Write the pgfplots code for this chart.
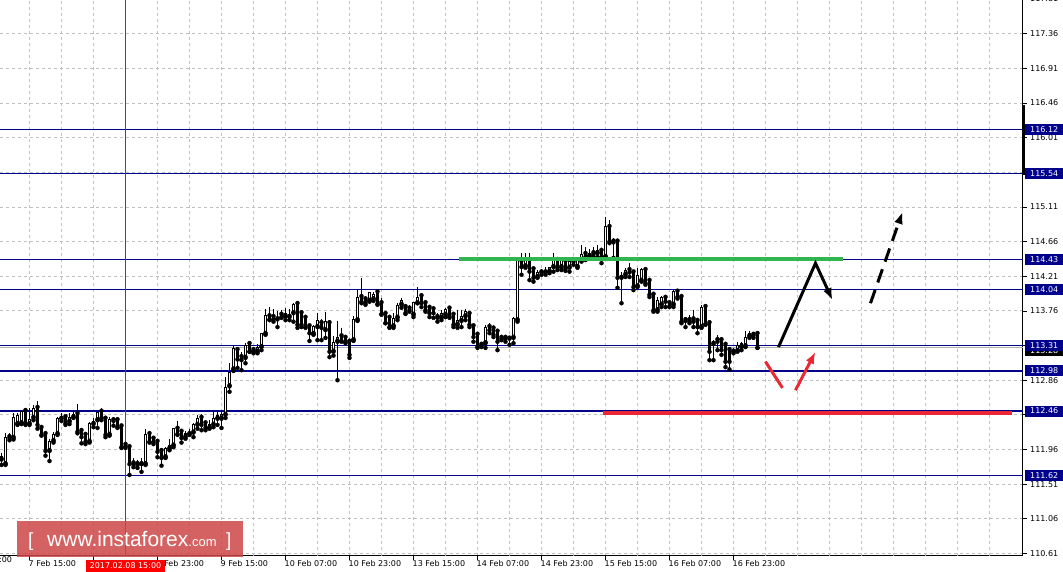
\documentclass[border=0pt]{standalone}
\usepackage{pgfplots}
\pgfplotsset{compat=1.18}
\usepackage{pgfplotstable}
\usepackage{fontspec}
\setmainfont{DejaVu Sans}
\newfontfamily\wmfont{Liberation Sans}
\usetikzlibrary{arrows.meta}
\definecolor{navy}{RGB}{0,0,140}
\definecolor{gridgray}{RGB}{192,192,192}
\definecolor{bidgray}{RGB}{175,175,175}
\definecolor{lvlgreen}{RGB}{50,180,80}
\definecolor{lvlred}{RGB}{232,40,50}
\definecolor{wmred}{RGB}{205,70,70}
\definecolor{datered}{RGB}{255,0,0}

\pgfplotstableread{
k o h l c
-7 111.83 111.92 111.76 111.87
-6 111.77 112.17 111.76 112.12
-5 112.12 112.17 112.08 112.11
-4 112.11 112.43 112.09 112.38
-3 112.29 112.43 112.28 112.41
-2 112.30 112.47 112.29 112.46
-1 112.46 112.47 112.28 112.30
0 112.29 112.50 112.28 112.36
1 112.37 112.54 112.34 112.50
2 112.50 112.59 112.23 112.28
3 112.24 112.27 112.14 112.15
4 112.16 112.17 111.88 111.94
5 111.94 112.10 111.81 112.07
6 112.07 112.19 112.05 112.16
7 112.16 112.38 112.15 112.37
8 112.36 112.43 112.33 112.40
9 112.38 112.41 112.28 112.30
10 112.32 112.43 112.29 112.38
11 112.38 112.45 112.37 112.42
12 112.42 112.55 112.17 112.19
13 112.20 112.21 112.04 112.12
14 112.15 112.16 112.03 112.06
15 112.06 112.32 112.05 112.30
16 112.29 112.37 112.25 112.33
17 112.34 112.46 112.24 112.45
18 112.45 112.50 112.34 112.37
19 112.36 112.37 112.12 112.15
20 112.15 112.38 112.14 112.36
21 112.34 112.38 112.27 112.33
22 112.34 112.38 112.24 112.25
23 112.26 112.28 111.98 111.99
24 112.02 112.05 111.98 112.00
25 111.99 112.01 111.63 111.77
26 111.78 111.85 111.73 111.77
27 111.77 111.82 111.72 111.76
28 111.77 111.85 111.67 111.78
29 111.77 112.23 111.76 112.16
30 112.16 112.19 112.05 112.06
31 112.10 112.12 112.03 112.05
32 112.06 112.07 111.86 111.93
33 111.94 111.98 111.75 111.85
34 111.86 111.99 111.85 111.98
35 111.97 112.10 111.95 112.02
36 112.01 112.24 111.99 112.24
37 112.23 112.33 112.15 112.16
38 112.19 112.20 112.05 112.11
39 112.12 112.20 112.10 112.17
40 112.16 112.23 112.15 112.19
41 112.18 112.30 112.12 112.29
42 112.28 112.41 112.23 112.37
43 112.37 112.42 112.21 112.28
44 112.30 112.33 112.21 112.24
45 112.24 112.34 112.23 112.29
46 112.28 112.45 112.25 112.37
47 112.36 112.46 112.28 112.41
48 112.36 112.47 112.24 112.42
49 112.41 112.90 112.37 112.77
50 112.78 113.08 112.71 112.97
51 113.00 113.30 112.98 113.28
52 113.25 113.29 113.02 113.13
53 113.16 113.22 112.99 113.12
54 113.15 113.34 113.08 113.32
55 113.33 113.36 113.23 113.23
56 113.25 113.29 113.21 113.24
57 113.23 113.33 113.21 113.29
58 113.29 113.47 113.25 113.47
59 113.46 113.79 113.45 113.71
60 113.69 113.81 113.64 113.65
61 113.68 113.79 113.62 113.65
62 113.65 113.76 113.55 113.68
63 113.71 113.77 113.67 113.68
64 113.69 113.80 113.64 113.73
65 113.68 113.79 113.64 113.72
66 113.73 113.86 113.62 113.85
67 113.85 113.86 113.54 113.58
68 113.73 113.77 113.55 113.58
69 113.67 113.68 113.54 113.55
70 113.56 113.58 113.37 113.47
71 113.46 113.58 113.45 113.56
72 113.55 113.73 113.38 113.64
73 113.60 113.65 113.38 113.54
74 113.51 113.75 113.41 113.63
75 113.60 113.64 113.16 113.23
76 113.23 113.44 113.18 113.36
77 113.36 113.63 112.86 113.42
78 113.43 113.54 113.36 113.37
79 113.41 113.44 113.34 113.36
80 113.36 113.38 113.15 113.19
81 113.38 113.69 113.37 113.65
82 113.64 114.03 113.63 113.94
83 113.94 114.19 113.86 113.88
84 113.91 113.93 113.84 113.86
85 113.89 114.01 113.88 114.00
86 113.91 114.01 113.89 113.98
87 114.00 114.01 113.84 113.85
88 113.86 113.93 113.71 113.72
89 113.72 113.73 113.60 113.60
90 113.67 113.71 113.54 113.55
91 113.56 113.73 113.54 113.67
92 113.67 113.86 113.64 113.84
93 113.84 113.93 113.80 113.90
94 113.81 113.84 113.72 113.73
95 113.79 113.84 113.75 113.77
96 113.71 113.88 113.68 113.88
97 113.86 114.07 113.86 113.94
98 113.95 113.99 113.81 113.86
99 113.86 113.88 113.75 113.77
100 113.80 113.81 113.68 113.73
101 113.78 113.82 113.67 113.73
102 113.68 113.73 113.62 113.67
103 113.67 113.77 113.64 113.73
104 113.71 113.80 113.68 113.79
105 113.79 113.81 113.67 113.69
106 113.71 113.73 113.55 113.58
107 113.58 113.77 113.54 113.64
108 113.63 113.77 113.55 113.69
109 113.69 113.79 113.64 113.76
110 113.72 113.75 113.55 113.58
111 113.56 113.59 113.36 113.42
112 113.45 113.47 113.28 113.29
113 113.32 113.36 113.29 113.34
114 113.34 113.58 113.28 113.55
115 113.55 113.60 113.47 113.51
116 113.53 113.58 113.42 113.45
117 113.49 113.51 113.25 113.36
118 113.41 113.44 113.38 113.40
119 113.41 113.45 113.36 113.40
120 113.40 113.42 113.32 113.42
121 113.41 113.68 113.34 113.67
122 113.64 114.45 113.62 114.42
123 114.40 114.51 114.23 114.33
124 114.34 114.51 114.32 114.42
125 114.42 114.51 114.16 114.27
126 114.30 114.32 114.14 114.19
127 114.20 114.29 114.19 114.26
128 114.26 114.30 114.23 114.27
129 114.26 114.33 114.23 114.29
130 114.27 114.33 114.25 114.33
131 114.33 114.51 114.27 114.43
132 114.42 114.46 114.29 114.32
133 114.33 114.45 114.29 114.43
134 114.40 114.42 114.28 114.31
135 114.32 114.44 114.27 114.41
136 114.42 114.45 114.36 114.40
137 114.33 114.46 114.32 114.43
138 114.42 114.61 114.40 114.50
139 114.50 114.59 114.42 114.46
140 114.47 114.56 114.45 114.51
141 114.51 114.59 114.46 114.50
142 114.51 114.62 114.46 114.55
143 114.54 114.56 114.38 114.46
144 114.46 114.98 114.45 114.86
145 114.85 114.94 114.64 114.66
146 114.66 114.71 114.45 114.65
147 114.66 114.69 114.06 114.19
148 114.19 114.27 113.86 114.23
149 114.23 114.32 114.20 114.29
150 114.29 114.38 114.20 114.26
151 114.26 114.29 114.03 114.07
152 114.08 114.32 114.07 114.23
153 114.15 114.32 114.14 114.30
154 114.29 114.32 114.10 114.12
155 114.15 114.16 113.94 113.97
156 113.97 114.00 113.75 113.77
157 113.77 113.94 113.75 113.90
158 113.84 113.95 113.81 113.94
159 113.93 113.94 113.81 113.88
160 113.86 113.88 113.81 113.82
161 113.84 114.03 113.81 114.02
162 114.01 114.05 113.92 113.94
163 113.94 113.95 113.60 113.62
164 113.64 113.68 113.55 113.63
165 113.64 113.71 113.60 113.63
166 113.65 113.77 113.55 113.62
167 113.63 113.67 113.47 113.55
168 113.55 113.84 113.54 113.81
169 113.81 113.85 113.58 113.59
170 113.60 113.62 113.12 113.23
171 113.33 113.38 113.12 113.37
172 113.38 113.45 113.25 113.36
173 113.38 113.42 113.19 113.25
174 113.32 113.35 113.03 113.10
175 113.25 113.29 113.00 113.10
176 113.23 113.28 113.21 113.25
177 113.24 113.35 113.23 113.32
178 113.29 113.36 113.25 113.34
179 113.30 113.50 113.29 113.42
180 113.43 113.50 113.41 113.47
181 113.45 113.49 113.41 113.44
182 113.46 113.47 113.28 113.28
}\candles

\begin{document}
\begin{tikzpicture}
\begin{axis}[
  at={(0pt,16pt)}, anchor=south west,
  scale only axis, width=1023pt, height=556pt,
  xmin=-7.375, xmax=248.375, ymin=110.577, ymax=117.798,
  axis x line*=bottom, axis y line*=right,
  axis line style={black, line width=1pt, -},
  clip mode=individual,
  ticklabel style={font=\fontsize{8}{10}\selectfont},
  grid=major,
  major grid style={gridgray, line width=0.9pt, dash pattern=on 3pt off 3pt},
  tick align=outside,
  major tick length=4pt,
  tick style={black, line width=0.8pt},
  ytick={110.61,111.06,111.51,111.96,112.41,112.86,113.31,113.76,114.21,114.66,115.11,115.56,116.01,116.46,116.91,117.36},
  yticklabels={110.61,111.06,111.51,111.96,112.41,112.86,113.31,113.76,114.21,114.66,115.11,115.56,116.01,116.46,116.91,117.36},
  yticklabel style={anchor=west, inner sep=0pt, xshift=3pt},
  xtick={0,16,32,48,64,80,96,112,128,144,160,176},
  xticklabels={7 Feb 15:00,8 Feb 07:00,8 Feb 23:00,9 Feb 15:00,10 Feb 07:00,10 Feb 23:00,13 Feb 15:00,14 Feb 07:00,14 Feb 23:00,15 Feb 15:00,16 Feb 07:00,16 Feb 23:00},
  xticklabel style={anchor=north west, inner sep=0pt, xshift=-1pt},
  extra x ticks={-8,8,24,40,56,72,88,104,120,136,152,168,184,192,200,208,216,224,232,240},
  extra x tick labels={},
  extra x tick style={major tick length=0pt},
]
% level lines
\addplot[navy, line width=1.2pt, forget plot] coordinates {(-7.375,116.12) (248.375,116.12)};
\addplot[navy, line width=1.2pt, forget plot] coordinates {(-7.375,115.54) (248.375,115.54)};
\addplot[navy, line width=1.2pt, forget plot] coordinates {(-7.375,114.43) (248.375,114.43)};
\addplot[navy, line width=1.2pt, forget plot] coordinates {(-7.375,114.04) (248.375,114.04)};
\addplot[bidgray, line width=1pt, forget plot] coordinates {(-7.375,113.28) (248.375,113.28)};
\addplot[navy, line width=1.2pt, forget plot] coordinates {(-7.375,113.31) (248.375,113.31)};
\addplot[navy, line width=1.2pt, forget plot] coordinates {(-7.375,112.98) (248.375,112.98)};
\addplot[navy, line width=1.2pt, forget plot] coordinates {(-7.375,112.46) (248.375,112.46)};
\addplot[navy, line width=1.2pt, forget plot] coordinates {(-7.375,111.62) (248.375,111.62)};
% crosshair line
\addplot[black!70, line width=1pt, forget plot] coordinates {(24,110.577) (24,117.798)};
% candles: wicks
\addplot[only marks, mark=none, forget plot,
  error bars/.cd, y dir=plus, y explicit, error mark=none,
  error bar style={black, line width=1pt}]
  table[x=k, y=l, y error plus expr={\thisrow{h}-\thisrow{l}}] {\candles};
% candles: bodies
\addplot[only marks, mark=none, forget plot,
  error bars/.cd, y dir=plus, y explicit, error mark=none,
  error bar style={black, line width=3pt}]
  table[x=k, y expr={min(\thisrow{o},\thisrow{c})}, y error plus expr={max(abs(\thisrow{c}-\thisrow{o}),0.013)}] {\candles};
\addplot[only marks, mark=none, forget plot,
  error bars/.cd, y dir=plus, y explicit, error mark=none,
  error bar style={white, line width=1pt}]
  table[x=k, y expr={\thisrow{o}+0.013}, y error plus expr={max(\thisrow{c}-\thisrow{o}-0.026,0)}] {\candles};
% support / resistance segments
\addplot[lvlgreen, line width=4pt, forget plot] coordinates {(107.5,114.43) (203.5,114.43)};
\addplot[lvlred, line width=4pt, forget plot] coordinates {(143.5,112.44) (245.75,112.44)};
% forecast arrows
\addplot[black, line width=3pt, line join=miter, -{Latex[length=12pt,width=9pt]}, forget plot] coordinates {(187.25,113.29) (196.5,114.38) (200.75,113.90)};
\addplot[black, line width=3pt, dash pattern=on 14pt off 8pt, -{Latex[length=12pt,width=9pt]}, forget plot] coordinates {(210.25,113.86) (218.25,115.045)};
\addplot[lvlred, line width=3pt, forget plot] coordinates {(184,113.10) (188.25,112.76)};
\addplot[lvlred, line width=3pt, -{Latex[length=12pt,width=9pt]}, forget plot] coordinates {(191.5,112.73) (196.5,113.23)};
% anchors for price labels
\coordinate (P1) at (axis cs:248.375,116.12);
\coordinate (P2) at (axis cs:248.375,115.54);
\coordinate (P3) at (axis cs:248.375,114.43);
\coordinate (P4) at (axis cs:248.375,114.04);
\coordinate (P5) at (axis cs:248.375,113.31);
\coordinate (P5b) at (axis cs:248.375,113.28);
\coordinate (P6) at (axis cs:248.375,112.98);
\coordinate (P7) at (axis cs:248.375,112.46);
\coordinate (P8) at (axis cs:248.375,111.62);
\coordinate (T0) at (axis cs:248.375,117.81);
\coordinate (B1) at (axis cs:248.375,116.44);
\coordinate (B2) at (axis cs:248.375,115.52);
\end{axis}
% thick bar on the price axis
\fill[black] ([xshift=-0.5pt]B2) rectangle ([xshift=2.5pt]B1);
% partly visible top label
\node[anchor=west, inner sep=0pt, font=\fontsize{8}{10}\selectfont] at ([xshift=7pt]T0) {117.81};
% price labels
\tikzset{plab/.style={anchor=west, fill=navy, text=white, inner xsep=5pt, inner ysep=0pt, minimum height=11pt, font=\fontsize{8}{10}\selectfont}}
\node[anchor=west, fill=black, text=white, inner xsep=5pt, inner ysep=0pt, minimum height=11pt, font=\fontsize{8}{10}\selectfont] at ([xshift=2pt,yshift=-3pt]P5b) {113.28};
\node[plab] at ([xshift=2pt]P1) {116.12};
\node[plab] at ([xshift=2pt]P2) {115.54};
\node[plab] at ([xshift=2pt]P3) {114.43};
\node[plab] at ([xshift=2pt]P4) {114.04};
\node[plab] at ([xshift=2pt]P5) {113.31};
\node[plab] at ([xshift=2pt]P6) {112.98};
\node[plab] at ([xshift=2pt]P7) {112.46};
\node[plab] at ([xshift=2pt]P8) {111.62};
% first, clipped date label
\node[anchor=north west, inner sep=0pt, font=\fontsize{8}{10}\selectfont] at (-35.5pt,16pt) {6 Feb 23:00};
% crosshair date box
\node[anchor=south, fill=datered, text=white, inner xsep=4pt, inner ysep=0pt, minimum height=11.5pt, font=\fontsize{8}{10}\selectfont] at (125.5pt,0pt) {2017.02.08 15:00};
% watermark
\fill[wmred, opacity=0.85] (17pt,15pt) rectangle (243pt,51pt);
\node[anchor=base west, inner sep=0pt, text=white] at (28pt,25pt) {\wmfont\fontsize{19}{19}\selectfont [};
\node[anchor=base west, inner sep=0pt, text=white] at (47pt,25pt) {\wmfont\fontsize{21}{21}\selectfont www.instaforex\fontsize{13}{13}\selectfont .com};
\node[anchor=base west, inner sep=0pt, text=white] at (226pt,25pt) {\wmfont\fontsize{19}{19}\selectfont ]};
\pgfresetboundingbox
\useasboundingbox (0pt,0pt) rectangle (1063pt,572pt);
\end{tikzpicture}
\end{document}
